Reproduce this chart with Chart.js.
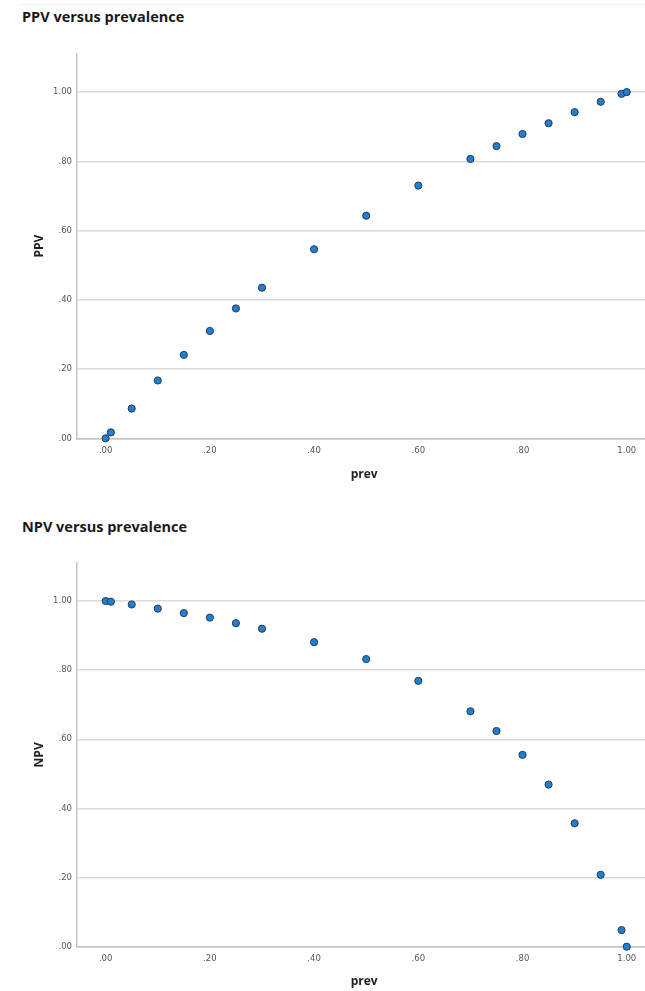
<!DOCTYPE html>
<html>
<head>
<meta charset="utf-8">
<script src="https://cdn.jsdelivr.net/npm/chart.js@4/dist/chart.umd.min.js"></script>
<style>
  html, body { margin: 0; padding: 0; background: #fff; }
  body { width: 645px; height: 991px; position: relative; overflow: hidden; }
  .ttl { position: absolute; left: 22px; font-family: "Open Sans", sans-serif; font-weight: bold; font-size: 14.5px; color: #1a1a1a; white-space: nowrap; }
  .sep { position: absolute; left: 20px; right: 0; top: 4px; border-top: 1px solid #efefef; }
  canvas { position: absolute; left: 0; }
</style>
</head>
<body>
<div class="sep"></div>
<div class="ttl" id="t1" style="top:7px">PPV versus prevalence</div>
<canvas id="c1" width="645" height="495" style="top:0"></canvas>
<div class="ttl" id="t2" style="top:517px">NPV versus prevalence</div>
<canvas id="c2" width="645" height="496" style="top:495px"></canvas>
<script>
// ---- data ----
const prevalence = [0, 0.01, 0.05, 0.10, 0.15, 0.20, 0.25, 0.30, 0.40, 0.50, 0.60, 0.70, 0.75, 0.80, 0.85, 0.90, 0.95, 0.99, 1.00];
const ppv = [0.000, 0.017, 0.086, 0.167, 0.241, 0.310, 0.375, 0.435, 0.546, 0.643, 0.730, 0.807, 0.844, 0.879, 0.910, 0.942, 0.972, 0.995, 1.000];
const npv = [1.000, 0.998, 0.990, 0.978, 0.965, 0.952, 0.936, 0.920, 0.881, 0.832, 0.769, 0.681, 0.624, 0.555, 0.469, 0.357, 0.208, 0.048, 0.000];
const xTickValues = [0, 0.2, 0.4, 0.6, 0.8, 1.0];
const yTickValues = [0, 0.2, 0.4, 0.6, 0.8, 1.0];
const xTitle = "prev";

function fmt(v) {
  const s = Number(v).toFixed(2);
  return s.startsWith("0") ? s.slice(1) : s;
}

function makeChart(id, yValues, yTitle, padTop, xAxisHeight, xTitlePadBottom) {
  const pts = prevalence.map((p, i) => ({ x: p, y: yValues[i] }));
  return new Chart(document.getElementById(id), {
    type: 'scatter',
    data: {
      datasets: [{
        data: pts,
        backgroundColor: '#1f7fd2',
        borderColor: '#2b3b4d',
        borderWidth: 1,
        pointRadius: 3.6,
        pointHoverRadius: 3.6,
        clip: false
      }]
    },
    options: {
      responsive: false,
      animation: false,
      devicePixelRatio: 1,
      layout: { autoPadding: false, padding: { top: padTop, left: 0, right: 0, bottom: 0 } },
      plugins: { legend: { display: false }, tooltip: { enabled: false }, title: { display: false } },
      scales: {
        x: {
          type: 'linear',
          min: -0.055,
          max: 1.035,
          grid: { display: false, drawTicks: false },
          border: { display: true, color: '#c4c4c4', width: 1.5 },
          afterBuildTicks: s => { s.ticks = xTickValues.map(v => ({ value: v })); },
          afterFit: s => { s.height = xAxisHeight; s.paddingLeft = 0; s.paddingRight = 0; },
          ticks: {
            callback: v => fmt(v),
            color: '#555',
            font: { family: 'DejaVu Sans', size: 8.5 },
            padding: 7,
            maxRotation: 0,
            autoSkip: false
          },
          title: {
            display: true,
            text: '  ' + xTitle,
            color: '#222',
            font: { family: 'Open Sans', size: 12, weight: 'bold' },
            padding: { top: 0, bottom: xTitlePadBottom }
          }
        },
        y: {
          type: 'linear',
          min: 0,
          max: 1.11,
          grid: { color: '#dadada', lineWidth: 1.5, drawTicks: false },
          border: { display: true, color: '#c4c4c4', width: 1.5 },
          afterBuildTicks: s => { s.ticks = yTickValues.map(v => ({ value: v })); },
          afterFit: s => { s.width = 77; s.paddingTop = 0; s.paddingBottom = 0; },
          ticks: {
            callback: v => fmt(v),
            color: '#555',
            font: { family: 'DejaVu Sans', size: 8.5 },
            padding: 5,
            autoSkip: false
          },
          title: {
            display: true,
            text: yTitle,
            color: '#222',
            font: { family: 'Open Sans', size: 12, weight: 'bold' },
            padding: { top: 32, bottom: 0 }
          }
        }
      }
    }
  });
}

makeChart('c1', ppv, 'PPV', 54, 56.7, 13);
makeChart('c2', npv, 'NPV', 68, 44.3, 2);
</script>
</body>
</html>
